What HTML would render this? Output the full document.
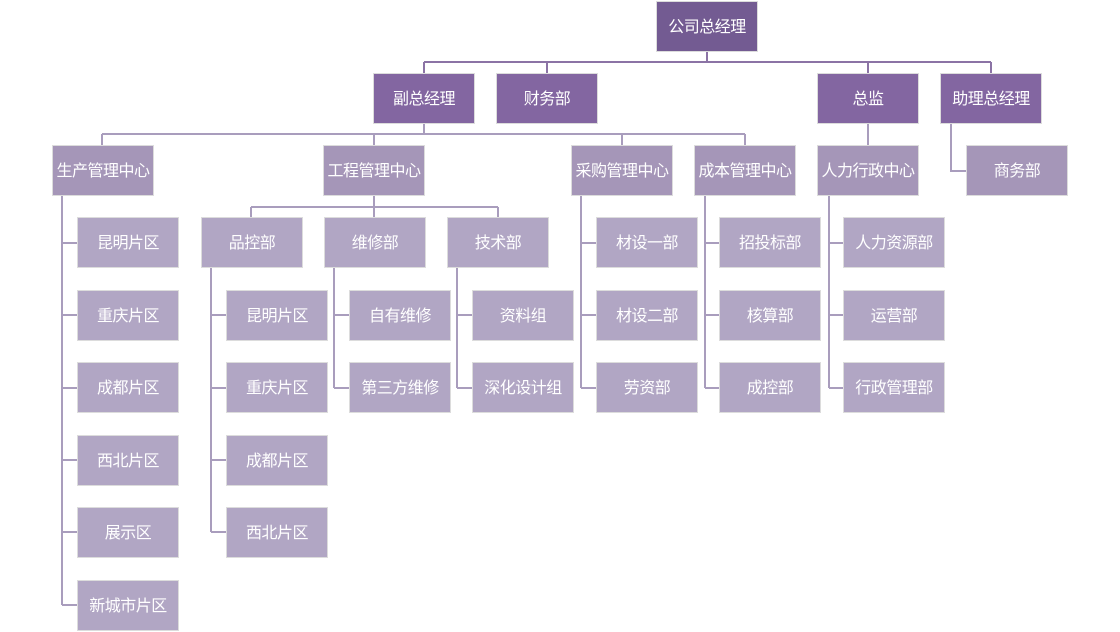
<!DOCTYPE html>
<html><head><meta charset="utf-8"><style>
html,body{margin:0;padding:0;background:#fff;width:1120px;height:632px;overflow:hidden;position:relative}
.b{position:absolute;width:100px;height:46px;padding-bottom:3px;border:1px solid #dcdcdc;color:#fff;font:16px "Liberation Sans","Noto Sans CJK SC",sans-serif;display:flex;align-items:center;justify-content:center;white-space:nowrap;letter-spacing:-0.5px;box-sizing:content-box}
.l1{background:#735b92}
.l2{background:#8366a1}
.l3{background:#a596b8}
.l4{background:#b1a6c4}
svg{position:absolute;left:0;top:0}
</style></head><body>
<svg width="1120" height="632">
<g stroke="#8b73a5" stroke-width="2" fill="none">
<path d="M707 52V62M424 62H991M424 62V73M547 62V73M868 62V73M991 62V73"/>
</g>
<g stroke="#a99dbd" stroke-width="2" fill="none">
<path d="M424 124V134M102 134H745M102 134V145M374 134V145M622 134V145M745 134V145"/>
<path d="M868 124V145"/>
<path d="M951 124V171H966"/>
<path d="M62 196V605M62 243H77M62 315H77M62 388H77M62 460H77M62 532H77M62 605H77"/>
<path d="M374 196V207M251 207H498M251 207V217M374 207V217M498 207V217"/>
<path d="M211 268V532M211 315H226M211 388H226M211 460H226M211 532H226"/>
<path d="M334 268V388M334 315H349M334 388H349"/>
<path d="M457 268V388M457 315H472M457 388H472"/>
<path d="M581 196V388M581 243H596M581 315H596M581 388H596"/>
<path d="M705 196V388M705 243H719M705 315H719M705 388H719"/>
<path d="M829 196V388M829 243H843M829 315H843M829 388H843"/>
</g>
</svg>
<div class="b l1" style="left:656px;top:1px">公司总经理</div>
<div class="b l2" style="left:373px;top:73px">副总经理</div>
<div class="b l2" style="left:496px;top:73px">财务部</div>
<div class="b l2" style="left:817px;top:73px">总监</div>
<div class="b l2" style="left:940px;top:73px">助理总经理</div>
<div class="b l3" style="left:52px;top:145px">生产管理中心</div>
<div class="b l3" style="left:323px;top:145px">工程管理中心</div>
<div class="b l3" style="left:571px;top:145px">采购管理中心</div>
<div class="b l3" style="left:694px;top:145px">成本管理中心</div>
<div class="b l3" style="left:817px;top:145px">人力行政中心</div>
<div class="b l3" style="left:966px;top:145px">商务部</div>
<div class="b l4" style="left:77px;top:217px">昆明片区</div>
<div class="b l4" style="left:77px;top:290px">重庆片区</div>
<div class="b l4" style="left:77px;top:362px">成都片区</div>
<div class="b l4" style="left:77px;top:435px">西北片区</div>
<div class="b l4" style="left:77px;top:507px">展示区</div>
<div class="b l4" style="left:77px;top:580px">新城市片区</div>
<div class="b l4" style="left:201px;top:217px">品控部</div>
<div class="b l4" style="left:324px;top:217px">维修部</div>
<div class="b l4" style="left:447px;top:217px">技术部</div>
<div class="b l4" style="left:226px;top:290px">昆明片区</div>
<div class="b l4" style="left:226px;top:362px">重庆片区</div>
<div class="b l4" style="left:226px;top:435px">成都片区</div>
<div class="b l4" style="left:226px;top:507px">西北片区</div>
<div class="b l4" style="left:349px;top:290px">自有维修</div>
<div class="b l4" style="left:349px;top:362px">第三方维修</div>
<div class="b l4" style="left:472px;top:290px">资料组</div>
<div class="b l4" style="left:472px;top:362px">深化设计组</div>
<div class="b l4" style="left:596px;top:217px">材设一部</div>
<div class="b l4" style="left:596px;top:290px">材设二部</div>
<div class="b l4" style="left:596px;top:362px">劳资部</div>
<div class="b l4" style="left:719px;top:217px">招投标部</div>
<div class="b l4" style="left:719px;top:290px">核算部</div>
<div class="b l4" style="left:719px;top:362px">成控部</div>
<div class="b l4" style="left:843px;top:217px">人力资源部</div>
<div class="b l4" style="left:843px;top:290px">运营部</div>
<div class="b l4" style="left:843px;top:362px">行政管理部</div>
</body></html>
